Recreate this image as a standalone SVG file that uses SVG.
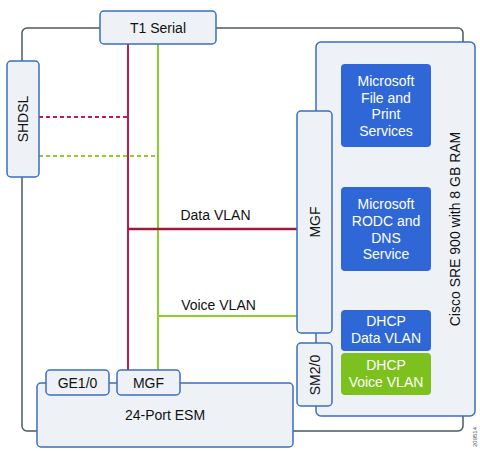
<svg xmlns="http://www.w3.org/2000/svg" width="480" height="451" viewBox="0 0 480 451">
<style>
.box{fill:#eef2f7;stroke:#3a6fc4;stroke-width:1.5}
.frame{fill:none;stroke:#4a5a60;stroke-width:1.5}
.t{font-family:"Liberation Sans",Arial,sans-serif;font-size:14px;fill:#111;text-anchor:middle;dominant-baseline:central}
.w{font-family:"Liberation Sans",Arial,sans-serif;font-size:14px;fill:#fff;text-anchor:middle}
.svc{fill:#2f68d6}
.red{stroke:#c8194c;stroke-width:2;fill:none}
.grn{stroke:#8ccf2a;stroke-width:2;fill:none}
</style>
<rect width="480" height="451" fill="#fff"/>
<g id="frame">
<rect class="frame" x="22" y="28" width="441" height="403" rx="5"/>
</g>
<g id="sre">
<rect class="box" x="316" y="42" width="159" height="374" rx="5"/>
<text class="t" transform="translate(455,229) rotate(-90)">Cisco SRE 900 with 8 GB RAM</text>
</g>
<g id="esm">
<rect class="box" x="37" y="383" width="256" height="64" rx="4"/>
<text class="t" x="165" y="415">24-Port ESM</text>
</g>
<g id="connectors">
<line class="red" x1="128" y1="44" x2="128" y2="371"/>
<line class="grn" x1="158" y1="44" x2="158" y2="371"/>
<line class="red" x1="39" y1="117" x2="128" y2="117" stroke-dasharray="4,3"/>
<line class="grn" x1="39" y1="156" x2="158" y2="156" stroke-dasharray="4,3" stroke="#b5c92a"/>
<line x1="128" y1="229" x2="297" y2="229" stroke="#9e1a3c" stroke-width="2.5"/>
<line class="grn" x1="158" y1="316" x2="297" y2="316"/>
<text class="t" x="215.5" y="215">Data VLAN</text>
<text class="t" x="218.5" y="305">Voice VLAN</text>
</g>
<g id="t1serial">
<rect class="box" x="100" y="11" width="116" height="33" rx="4"/>
<text class="t" x="158" y="27.5">T1 Serial</text>
</g>
<g id="shdsl">
<rect class="box" x="7" y="61" width="32" height="116" rx="4"/>
<text class="t" transform="translate(23,119) rotate(-90)">SHDSL</text>
</g>
<g id="mgf-sre">
<rect class="box" x="297" y="111" width="35" height="222" rx="4"/>
<text class="t" transform="translate(314.5,222) rotate(-90)">MGF</text>
</g>
<g id="sm20">
<rect class="box" x="297" y="343" width="35" height="63" rx="4"/>
<text class="t" transform="translate(314.5,375) rotate(-90)">SM2/0</text>
</g>
<g id="ge10">
<rect class="box" x="46" y="370" width="63" height="25" rx="4"/>
<text class="t" x="77.5" y="382.5">GE1/0</text>
</g>
<g id="mgf-esm">
<rect class="box" x="117" y="370" width="63" height="25" rx="4"/>
<text class="t" x="148.5" y="382.5">MGF</text>
</g>
<g id="fileprint">
<rect class="svc" x="341" y="64" width="90" height="83" rx="4"/>
<text class="w" x="386" y="86">Microsoft</text>
<text class="w" x="386" y="102.5">File and</text>
<text class="w" x="386" y="119">Print</text>
<text class="w" x="386" y="135.5">Services</text>
</g>
<g id="rodc">
<rect class="svc" x="341" y="187" width="90" height="84" rx="4"/>
<text class="w" x="386" y="209">Microsoft</text>
<text class="w" x="386" y="226">RODC and</text>
<text class="w" x="386" y="242.5">DNS</text>
<text class="w" x="386" y="259">Service</text>
</g>
<g id="dhcpdata">
<rect class="svc" x="341" y="310" width="90" height="41" rx="4"/>
<text class="w" x="386" y="326">DHCP</text>
<text class="w" x="386" y="342.5">Data VLAN</text>
</g>
<g id="dhcpvoice">
<rect x="341" y="353" width="90" height="42" rx="4" fill="#7dc11e"/>
<text class="w" x="386" y="370">DHCP</text>
<text class="w" x="386" y="387">Voice VLAN</text>
</g>
<text transform="translate(477,437) rotate(-90)" font-family="Liberation Sans,Arial,sans-serif" font-size="6" fill="#555" text-anchor="middle">209514</text>
</svg>
